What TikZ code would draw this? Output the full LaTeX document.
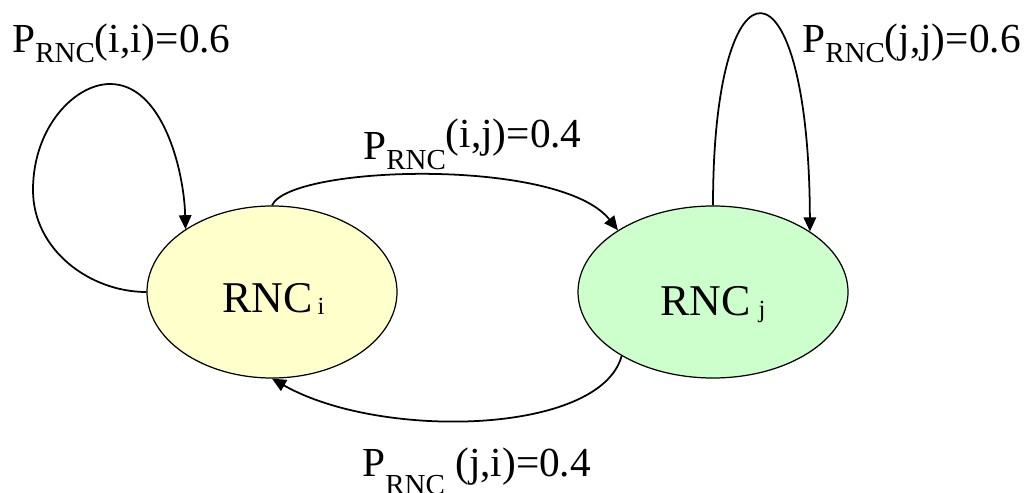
\documentclass[tikz,border=0pt]{standalone}
\usepackage{fontspec}
\setmainfont{Liberation Serif}
\usepackage{tikz}
\usetikzlibrary{arrows.meta,shapes.geometric,calc}
\usepackage{xcolor}

\definecolor{rncyellow}{HTML}{FFFFCC}
\definecolor{rncgreen}{HTML}{CCFFCC}

\newcommand{\bigtxt}{\fontsize{23.5}{28}\selectfont}
\newcommand{\rnctxt}{\fontsize{25}{30}\selectfont}
\newcommand{\subtxt}{\fontsize{16.5}{20}\selectfont}
\newcommand{\idxtxt}{\fontsize{14}{16}\selectfont}
\newcommand{\prnc}[1][-0.2cm]{P\raisebox{#1}{\subtxt RNC}}

\begin{document}
\begin{tikzpicture}[scale=1,
    rnc/.style={ellipse, draw, line width=0.7pt, inner sep=0pt, minimum height=3.44cm},
    trans/.style={line width=1pt, -{Triangle[length=0.28cm,width=0.25cm]}},
    prob/.style={anchor=base west, inner sep=0pt, font=\bigtxt}]
  \useasboundingbox (0,0) rectangle (20.56,9.84);
  % The two RNC states
  \node[rnc, fill=rncyellow, minimum width=5.0cm] (i) at (5.44,4.0) {};
  \node[rnc, fill=rncgreen, minimum width=5.4cm] (j) at (14.26,4.0) {};
  \node[prob, font=\rnctxt] (ti) at ($(i)+(-1.0,-0.4)$) {RNC\hspace{0.1cm}\raisebox{-0.05cm}{\idxtxt i}};
  \node[prob, font=\rnctxt] (tj) at ($(j)+(-1.06,-0.46)$) {RNC\hspace{0.16cm}\raisebox{-0.05cm}{\idxtxt j}};
  % Self loop on i
  \draw[trans] (i.west) .. controls (1.8,4.0) and (0.66,4.84) .. (0.66,6.04)
    .. controls (0.66,7.3) and (1.5,8.16) .. (2.2,8.16)
    .. controls (3.25,8.16) and (3.68,6.44) .. (i.144);
  % Self loop on j
  \draw[trans] (j.north) .. controls (14.26,10.9) and (16.18,10.9) .. (j.32);
  % i to j and back
  \draw[trans] (i.north) .. controls (5.8,6.54) and (11.2,6.7) .. (j.147);
  \draw[trans] (j.215) .. controls (12.0,1.14) and (7.6,1.04) .. (i.south);
  % Transition probabilities
  \node[prob] (pii) at (0.24,8.78) {\prnc(i,i)=0.6};
  \node[prob] (pjj) at (16.04,8.78) {\prnc(j,j)=0.6};
  \node[prob] (pij) at (7.26,6.64) {\prnc\raisebox{0.24cm}{(i,j)=0.4}};
  \node[prob] (pji) at (7.24,0.32) {\prnc[-0.36cm] (j,i)=0.4};
\end{tikzpicture}
\end{document}
